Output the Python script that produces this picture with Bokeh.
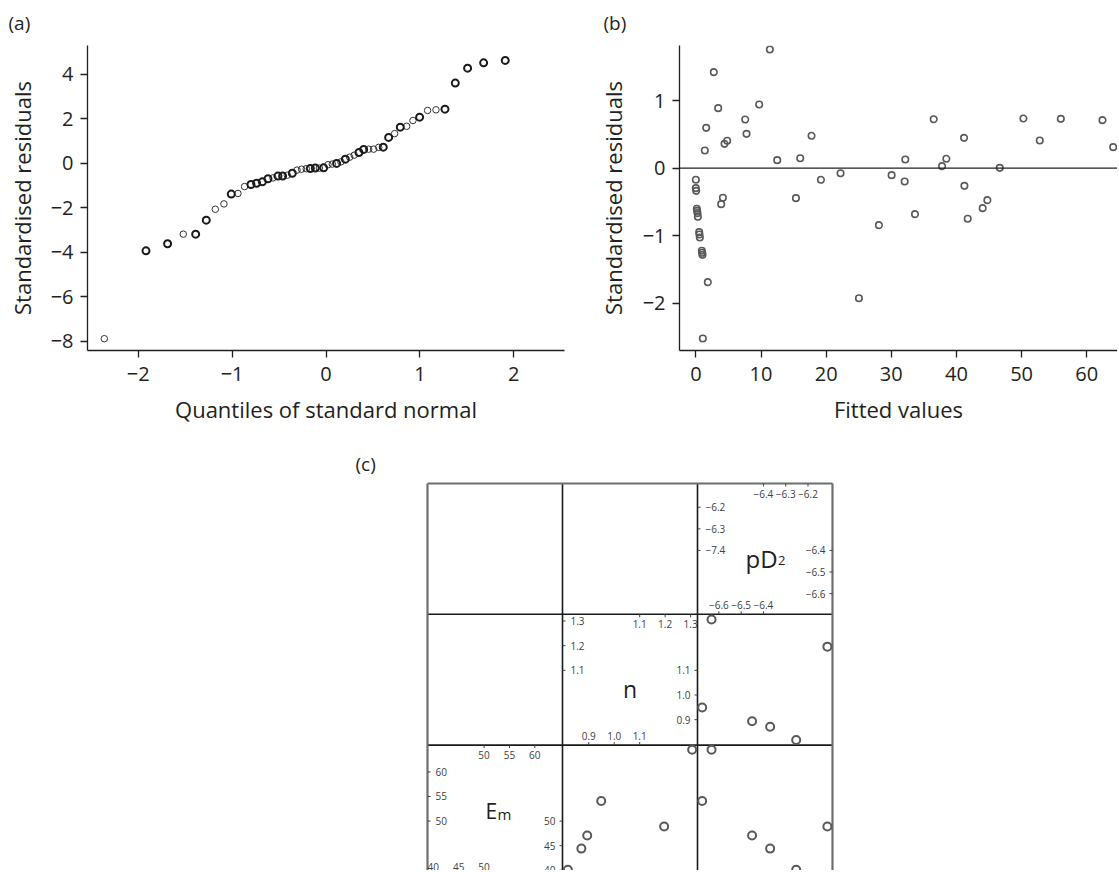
from bokeh.plotting import figure
from bokeh.layouts import column, row, Spacer
from bokeh.models import FixedTicker, Title, Span, Range1d
from bokeh.core.properties import value
from bokeh.embed import file_html
from bokeh.resources import INLINE

FONT = "Open Sans"
INK = "#231f20"
GREY = "#58595b"

# ---------------- data ----------------
# (a) normal QQ plot of standardised residuals (heavier rings = overlapping points)
qq_x_heavy = [-1.917, -1.687, -1.388, -1.275, -1.009, -0.799, -0.739, -0.678, -0.618,
              -0.512, -0.462, -0.359, -0.167, -0.114, -0.025, 0.113, 0.206, 0.351,
              0.401, 0.610, 0.667, 0.791, 0.997, 1.267, 1.377, 1.508, 1.679, 1.909]
qq_y_heavy = [-3.94, -3.62, -3.19, -2.56, -1.39, -0.96, -0.90, -0.84, -0.70,
              -0.58, -0.58, -0.45, -0.24, -0.22, -0.21, -0.01, 0.18, 0.48,
              0.62, 0.72, 1.16, 1.62, 2.07, 2.43, 3.60, 4.27, 4.51, 4.62]
qq_x_light = [-2.361, -1.520, -1.179, -1.087, -0.938, -0.867, -0.565, -0.412, -0.309,
              -0.260, -0.210, -0.071, 0.021, 0.067, 0.159, 0.252, 0.301, 0.454,
              0.507, 0.561, 0.731, 0.859, 0.926, 1.082, 1.171]
qq_y_light = [-7.89, -3.19, -2.07, -1.83, -1.36, -1.05, -0.66, -0.54, -0.31,
              -0.27, -0.25, -0.22, -0.07, -0.04, 0.06, 0.27, 0.36, 0.63,
              0.63, 0.71, 1.33, 1.66, 1.92, 2.37, 2.40]
qq_ticks_x = [-2, -1, 0, 1, 2]
qq_ticks_y = [-8, -6, -4, -2, 0, 2, 4]

# (b) standardised residuals vs fitted values
fitted = [0.0, 0.0, 0.05, 0.15, 0.2, 0.26, 0.31, 0.51, 0.56, 0.61, 0.92, 0.97, 1.02, 1.07,
          1.38, 1.59, 1.84, 2.76, 3.43, 3.89, 4.15, 4.40, 4.81, 7.58, 7.78, 9.72, 11.36,
          12.49, 15.36, 16.02, 17.76, 19.20, 22.21, 25.03, 28.1, 30.05, 32.05, 32.15,
          33.64, 36.51, 37.79, 38.45, 41.17, 41.22, 41.73, 44.03, 44.75, 46.65, 50.28,
          52.79, 56.02, 62.42, 64.06]
std_resid = [-0.172, -0.295, -0.335, -0.601, -0.631, -0.665, -0.719, -0.946, -0.981,
             -1.025, -1.222, -1.252, -1.282, -2.519, 0.262, 0.597, -1.686, 1.421, 0.888,
             -0.532, -0.438, 0.360, 0.405, 0.720, 0.508, 0.942, 1.756, 0.119, -0.443,
             0.148, 0.479, -0.172, -0.074, -1.923, -0.843, -0.103, -0.197, 0.129, -0.680,
             0.725, 0.030, 0.139, 0.449, -0.261, -0.749, -0.591, -0.473, 0.005, 0.735,
             0.410, 0.730, 0.711, 0.311]
fit_ticks_x = [0, 10, 20, 30, 40, 50, 60]
fit_ticks_y = [-2, -1, 0, 1]

# (c) scatterplot matrix of the parameter estimates
pD2 = [-6.633, -6.675, -6.451, -6.370, -6.253, -6.113]
n_hill = [1.306, 0.949, 0.894, 0.871, 0.818, 1.196]
Em = [64.5, 54.1, 47.05, 44.4, 40.1, 48.9]

pD2_left_ticks = [-6.2, -6.3, -6.4]
pD2_left_labels = ["\u22126.2", "\u22126.3", "\u22127.4"]
pD2_right_ticks = [-6.4, -6.5, -6.6]
pD2_top_ticks = [-6.4, -6.3, -6.2]
pD2_bottom_ticks = [-6.6, -6.5, -6.4]
n_left_ticks = [1.3, 1.2, 1.1]
n_top_ticks = [1.1, 1.2, 1.3]
n_right_ticks = [1.1, 1.0, 0.9]
n_bottom_ticks = [0.9, 1.0, 1.1]
Em_left_ticks = [60, 55, 50]
Em_top_ticks = [50, 55, 60]
Em_right_ticks = [50, 45, 40]
Em_bottom_ticks = [40, 45, 50]

# panel limits for the matrix cells
P_LIM = (-6.696, -6.090)
N_LIM = (0.797, 1.327)
EM_LIM = (38.85, 65.45)


def minus(v, fmt):
    s = fmt.format(abs(v))
    return ("\u2212" + s) if v < 0 else s


def style(p):
    p.grid.visible = False
    p.outline_line_color = None
    for ax in p.axis:
        ax.axis_line_color = INK
        ax.axis_line_width = 1.3
        ax.major_tick_line_color = INK
        ax.major_tick_line_width = 1.3
        ax.major_tick_in = 0
        ax.major_tick_out = 7
        ax.minor_tick_line_color = None
        ax.major_label_text_font = FONT
        ax.major_label_text_font_size = "20px"
        ax.major_label_text_color = INK
        ax.major_label_standoff = 7
        ax.axis_label_text_font = FONT
        ax.axis_label_text_font_size = "22px"
        ax.axis_label_text_font_style = "normal"
        ax.axis_label_text_color = INK
    p.xaxis.major_label_standoff = 9


def panel_title(p, txt, offset, valign, standoff):
    p.add_layout(Title(text=txt, align="left", offset=offset, vertical_align=valign,
                       standoff=standoff, text_font=FONT, text_font_size="19px",
                       text_font_style="normal", text_color=INK), "above")


# ---------------- (a) ----------------
pa = figure(frame_width=477, frame_height=305, min_border_left=87, min_border_right=26,
            min_border_top=45, min_border_bottom=90,
            x_range=Range1d(-2.54, 2.54), y_range=Range1d(-8.42, 5.29),
            output_backend="svg", toolbar_location=None)
style(pa)
pa.xaxis.ticker = FixedTicker(ticks=qq_ticks_x)
pa.yaxis.ticker = FixedTicker(ticks=qq_ticks_y)
pa.xaxis.major_label_overrides = {t: minus(t, "{:d}") for t in qq_ticks_x}
pa.yaxis.major_label_overrides = {t: minus(t, "{:d}") for t in qq_ticks_y}
pa.xaxis.axis_label = "Quantiles of standard normal"
pa.yaxis.axis_label = "Standardised residuals"
pa.xaxis.axis_label_standoff = 10
pa.yaxis.axis_label_standoff = 11
pa.scatter(qq_x_light, qq_y_light, size=6.5, fill_color=None, line_color="#333333", line_width=1)
pa.scatter(qq_x_heavy, qq_y_heavy, size=7, fill_color=None, line_color="#1a1a1a", line_width=2)
panel_title(pa, "(a)", -79, "top", 16)

# ---------------- (b) ----------------
pb = figure(frame_width=438, frame_height=305, min_border_left=89, min_border_right=0,
            min_border_top=45, min_border_bottom=90,
            x_range=Range1d(-2.51, 64.72), y_range=Range1d(-2.697, 1.815),
            output_backend="svg", toolbar_location=None)
style(pb)
pb.xaxis.ticker = FixedTicker(ticks=fit_ticks_x)
pb.yaxis.ticker = FixedTicker(ticks=fit_ticks_y)
pb.xaxis.major_label_overrides = {t: minus(t, "{:d}") for t in fit_ticks_x}
pb.yaxis.major_label_overrides = {t: minus(t, "{:d}") for t in fit_ticks_y}
pb.xaxis.axis_label = "Fitted values"
pb.yaxis.axis_label = "Standardised residuals"
pb.xaxis.axis_label_standoff = 10
pb.yaxis.axis_label_standoff = 12
pb.add_layout(Span(location=0, dimension="width", line_color=INK, line_width=1.3))
pb.scatter(fitted, std_resid, size=6.5, fill_color=None, line_color=GREY, line_width=1.6)
panel_title(pb, "(b)", -76, "top", 16)

# ---------------- (c) ----------------
CELL_W = 135.0
CELL_H = 130.8
FW, FH = 409, 389
padx = 2 / CELL_W
pady = 2 / CELL_H
ycut = 3 + pady - FH / CELL_H

pc = figure(frame_width=FW, frame_height=FH, min_border_left=85, min_border_right=6,
            min_border_top=41, min_border_bottom=0,
            x_range=Range1d(-padx, 3 + padx), y_range=Range1d(ycut, 3 + pady),
            x_axis_location=None, y_axis_location=None,
            output_backend="svg", toolbar_location=None)
pc.grid.visible = False
pc.outline_line_color = None


def xr(lims, c):
    lo, hi = lims
    s = hi - lo
    return Range1d(lo + (-padx - c) * s, lo + (3 + padx - c) * s)


def yr(lims, r):
    lo, hi = lims
    s = hi - lo
    base = 2 - r
    return Range1d(lo + (ycut - base) * s, lo + (3 + pady - base) * s)


pc.extra_x_ranges = {"Em_x": xr(EM_LIM, 0), "n_x": xr(N_LIM, 1), "pD2_x": xr(P_LIM, 2)}
pc.extra_y_ranges = {"pD2_y": yr(P_LIM, 0), "n_y": yr(N_LIM, 1), "Em_y": yr(EM_LIM, 2)}

# cell frame lines
pc.segment(x0=[1, 2, 0, 0], y0=[ycut, ycut, 1, 2], x1=[1, 2, 3, 3], y1=[3, 3, 1, 2],
           line_color="#1a1a1a", line_width=1.6)
pc.segment(x0=[0, 3, 0], y0=[ycut, ycut, 3], x1=[0, 3, 3], y1=[3, 3, 3],
           line_color="#6d6e71", line_width=2.2)

# scatter cells
ptkw = dict(size=8, fill_color=None, line_color=GREY, line_width=2)
pc.scatter(pD2, n_hill, x_range_name="pD2_x", y_range_name="n_y", **ptkw)
pc.scatter(n_hill, Em, x_range_name="n_x", y_range_name="Em_y", **ptkw)
pc.scatter(pD2, Em, x_range_name="pD2_x", y_range_name="Em_y", **ptkw)

TK = "#414042"
tl_x = 3 / CELL_W
tl_y = 3 / CELL_H
txt_kw = dict(text_font=value(FONT), text_font_size=value("10px"), text_color=TK)


def side_ticks(edge, ticks, labels, rng, side):
    if side in ("left", "right"):
        d = tl_x if side == "left" else -tl_x
        pc.segment(x0=[edge] * len(ticks), x1=[edge + d] * len(ticks), y0=ticks, y1=ticks,
                   y_range_name=rng, line_color=TK, line_width=1)
        pc.text(x=[edge] * len(ticks), y=ticks, text=labels, y_range_name=rng,
                x_offset=8 if side == "left" else -7,
                text_align="left" if side == "left" else "right",
                text_baseline="middle", **txt_kw)
    else:
        d = -tl_y if side == "top" else tl_y
        pc.segment(y0=[edge] * len(ticks), y1=[edge + d] * len(ticks), x0=ticks, x1=ticks,
                   x_range_name=rng, line_color=TK, line_width=1)
        pc.text(y=[edge] * len(ticks), x=ticks, text=labels, x_range_name=rng,
                y_offset=10 if side == "top" else -9,
                text_align="center", text_baseline="middle", **txt_kw)


f1 = lambda vals: [minus(v, "{:.1f}") for v in vals]
f0 = lambda vals: [minus(v, "{:d}") for v in vals]

# pD2 cell (row 0, col 2)
side_ticks(2, pD2_left_ticks, pD2_left_labels, "pD2_y", "left")
side_ticks(3, pD2_right_ticks, f1(pD2_right_ticks), "pD2_y", "right")
side_ticks(3, pD2_top_ticks, f1(pD2_top_ticks), "pD2_x", "top")
side_ticks(2, pD2_bottom_ticks, f1(pD2_bottom_ticks), "pD2_x", "bottom")
# n cell (row 1, col 1)
side_ticks(1, n_left_ticks, f1(n_left_ticks), "n_y", "left")
side_ticks(2, n_right_ticks, f1(n_right_ticks), "n_y", "right")
side_ticks(2, n_top_ticks, f1(n_top_ticks), "n_x", "top")
side_ticks(1, n_bottom_ticks, f1(n_bottom_ticks), "n_x", "bottom")
# Em cell (row 2, col 0)
side_ticks(0, Em_left_ticks, f0(Em_left_ticks), "Em_y", "left")
side_ticks(1, Em_right_ticks, f0(Em_right_ticks), "Em_y", "right")
side_ticks(1, Em_top_ticks, f0(Em_top_ticks), "Em_x", "top")
side_ticks(0, Em_bottom_ticks, f0(Em_bottom_ticks), "Em_x", "bottom")

# variable names on the diagonal
nm_kw = dict(text_font=value(FONT), text_color=INK, text_baseline="alphabetic", text_align="left")
pc.text(x=[2.5], y=[2.5], text=["pD"], x_offset=-19.5, y_offset=10,
        text_font_size=value("24px"), **nm_kw)
pc.text(x=[2.5], y=[2.5], text=["2"], x_offset=13, y_offset=12,
        text_font_size=value("13px"), **nm_kw)
pc.text(x=[1.5], y=[1.5], text=["n"], x_offset=-7, y_offset=9,
        text_font_size=value("23px"), **nm_kw)
pc.text(x=[0.5], y=[0.5], text=["E"], x_offset=-9.5, y_offset=0,
        text_font_size=value("21px"), **nm_kw)
pc.text(x=[0.5], y=[0.5], text=["m"], x_offset=2.5, y_offset=3.5,
        text_font_size=value("15px"), **nm_kw)

panel_title(pc, "(c)", -70, "bottom", 10)

layout = column(row(pa, pb), row(Spacer(width=340, height=10), pc))

open("out.html", "w").write(file_html(layout, INLINE))
